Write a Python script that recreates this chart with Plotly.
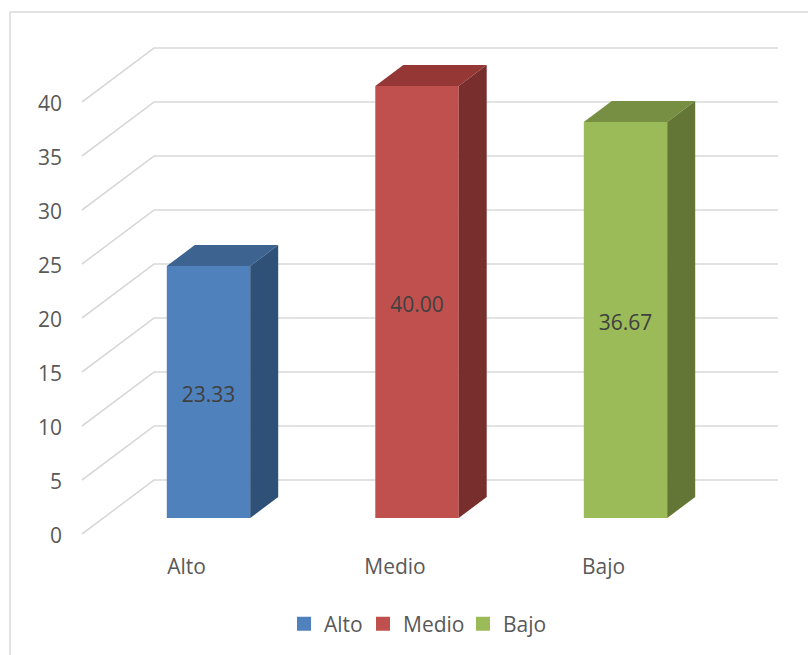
import plotly.graph_objects as go

categories = ["Alto", "Medio", "Bajo"]
values = [23.33, 40.00, 36.67]
y_ticks = [0, 5, 10, 15, 20, 25, 30, 35, 40]
front_colors = ["#4F81BD", "#C0504D", "#9BBB59"]
top_colors = ["#3D6491", "#953735", "#768F43"]
side_colors = ["#2F5178", "#772E2C", "#637635"]
legend_left_px = [284, 363, 463]

W, H = 808, 655
PX_X = 208.5    # pixels per category
PX_Y = 10.8     # pixels per value unit
X0_PX = 208.5   # pixel of category 0
BASE_WALL = 534 # pixel of value 0, front of the floor
BASE_BAR = 518  # pixel of value 0, front of the bars
BAR_W = 0.4
DX, DY = 28 / PX_X, 21 / PX_Y
LABEL_DROP = 5 / PX_Y
x_range = [-X0_PX / PX_X, (W - X0_PX) / PX_X]
FONT = "Open Sans"
TXT = "#595959"
SIZE = 21

fig = go.Figure()

# grid: floor-to-wall perspective lines, one per tick
gx, gy = [], []
for t in y_ticks:
    gx += [(82 - X0_PX) / PX_X, (154 - X0_PX) / PX_X, (778 - X0_PX) / PX_X, None]
    gy += [t, t + 5, t + 5, None]
fig.add_trace(go.Scatter(x=gx, y=gy, mode="lines", line=dict(color="#D9D9D9", width=1.6),
                         hoverinfo="skip", showlegend=False, xaxis="x", yaxis="y"))

legend_names = ["legend", "legend2", "legend3"]
for i, (c, v) in enumerate(zip(categories, values)):
    fig.add_trace(go.Bar(x=[i], y=[v], width=BAR_W, name=c, marker=dict(color=front_colors[i], line=dict(width=0)),
                         legendgroup=c, showlegend=False, xaxis="x", yaxis="y2"))
    l, r = i - BAR_W / 2, i + BAR_W / 2
    fig.add_trace(go.Scatter(x=[l, r, r + DX, l + DX, l], y=[v, v, v + DY, v + DY, v], fill="toself", mode="none",
                             fillcolor=top_colors[i], hoverinfo="skip", showlegend=False, xaxis="x", yaxis="y2"))
    fig.add_trace(go.Scatter(x=[r, r + DX, r + DX, r, r], y=[0, DY, v + DY, v, 0], fill="toself", mode="none",
                             fillcolor=side_colors[i], hoverinfo="skip", showlegend=False, xaxis="x", yaxis="y2"))
    # value label, centred on the bar
    fig.add_trace(go.Scatter(x=[i], y=[v / 2 - LABEL_DROP], mode="text", text=[f"{v:.2f}"],
                             textposition="middle center", textfont=dict(family=FONT, size=SIZE, color="#404040"),
                             hoverinfo="skip", showlegend=False, xaxis="x", yaxis="y2"))
    # legend key, square as in the source chart
    fig.add_trace(go.Scatter(x=[None], y=[None], mode="markers", name=c, legendgroup=c, legend=legend_names[i],
                             marker=dict(symbol="square", size=14, color=front_colors[i]),
                             xaxis="x", yaxis="y2"))

legend_common = dict(yanchor="middle", y=(H - 624) / H, xanchor="left", bgcolor="rgba(0,0,0,0)",
                     font=dict(family=FONT, size=SIZE, color=TXT))

fig.update_layout(
    width=W, height=H, margin=dict(l=0, r=0, t=0, b=0),
    paper_bgcolor="white", plot_bgcolor="white", barmode="overlay",
    font=dict(family=FONT, color=TXT, size=SIZE),
    xaxis=dict(range=x_range, domain=[0, 1], anchor="free", position=(H - 552) / H,
               tickmode="array", tickvals=[i - 22 / PX_X for i in range(3)], ticktext=categories,
               showgrid=False, zeroline=False, showline=False, ticks="",
               tickfont=dict(family=FONT, size=SIZE, color=TXT)),
    yaxis=dict(range=[(BASE_WALL - H) / PX_Y, BASE_WALL / PX_Y], domain=[0, 1], anchor="free", position=62 / W,
               tickmode="array", tickvals=y_ticks, showgrid=False, zeroline=False, showline=False, ticks="",
               ticklabelshift=2, tickfont=dict(family=FONT, size=SIZE, color=TXT)),
    yaxis2=dict(range=[(BASE_BAR - H) / PX_Y, BASE_BAR / PX_Y], overlaying="y", visible=False),
    legend=dict(x=legend_left_px[0] / W, **legend_common),
    legend2=dict(x=legend_left_px[1] / W, **legend_common),
    legend3=dict(x=legend_left_px[2] / W, **legend_common),
    shapes=[
        dict(type="line", xref="paper", yref="paper", x0=10 / W, x1=1, y0=(H - 12) / H, y1=(H - 12) / H,
             line=dict(color="#D9D9D9", width=1.5)),
        dict(type="line", xref="paper", yref="paper", x0=10 / W, x1=10 / W, y0=0, y1=(H - 12) / H,
             line=dict(color="#D9D9D9", width=1.5)),
    ],
)
fig.write_html("out.html", config={"displayModeBar": False}, post_script="document.body.style.margin='0';")
